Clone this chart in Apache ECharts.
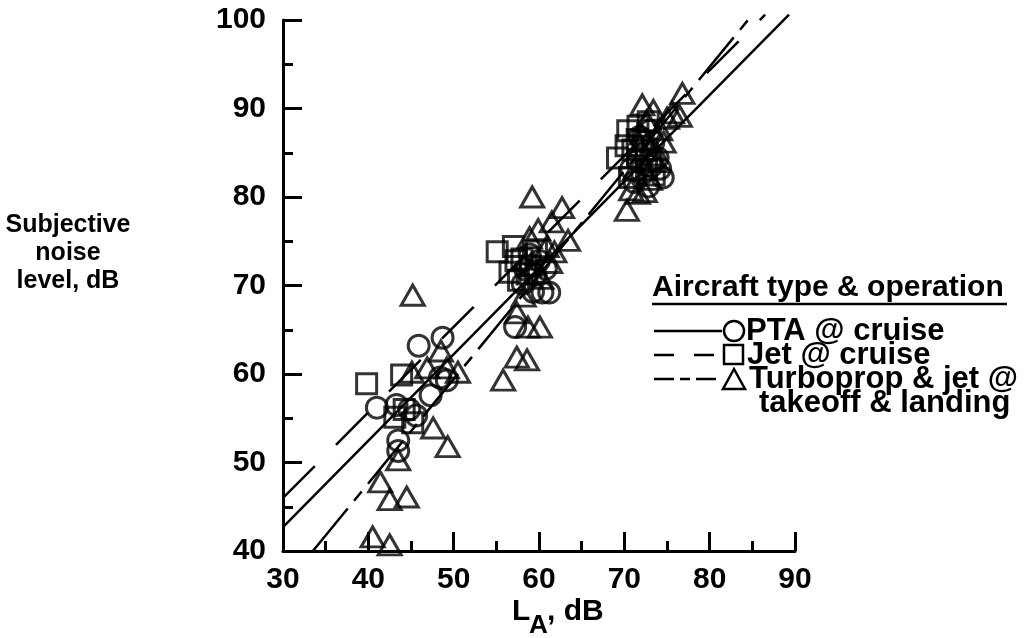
<!DOCTYPE html>
<html>
<head>
<meta charset="utf-8">
<script src="https://cdn.jsdelivr.net/npm/echarts@6/dist/echarts.min.js"></script>
<style>
  html, body { margin: 0; padding: 0; background: #fff; }
  #chart { width: 1024px; height: 638px; }
</style>
</head>
<body>
<div id="chart"></div>
<script>
// data: [L_A, subjective noise level]
var ptaPoints = [
  [41.0,56.2],[43.3,56.5],[44.8,56.0],[45.6,55.3],[45.9,63.2],[48.7,64.1],[47.3,57.6],
  [43.5,52.5],[43.5,51.3],[48.4,59.6],[49.2,59.3],
  [57.2,65.3],[59.3,69.3],[60.4,69.2],[61.2,69.2],[58.4,71.8],[59.6,71.2],[60.0,72.8],[58.9,73.5],
  [58.1,70.2],[60.8,71.9],
  [74.5,82.2],[72.1,82.6],[71.2,81.7],[73.2,83.5],[72.6,85.2],[71.6,84.1],[73.9,84.4],[73.4,86.2],
  [70.8,83.2],[72.8,81.2],[74.2,83.2],[71.8,86.8],[73.0,87.5]
];
var jetPoints = [
  [39.8,58.9],[43.9,59.9],[43.1,55.1],[45.2,54.5],[44.2,56.0],
  [55.1,73.8],[57.0,74.4],[56.6,71.5],[58.0,73.0],[59.0,72.2],[57.6,70.6],
  [57.3,72.8],[58.6,71.3],[59.7,73.9],
  [70.4,87.5],[69.2,84.4],[71.0,85.3],[72.2,86.3],[72.6,83.1],[73.1,84.2],[71.6,88.0],[70.6,82.2],
  [71.5,86.5],[72.8,88.5],[70.2,85.8],[73.5,82.5]
];
var turboPoints = [
  [45.2,68.9],[45.1,60.2],[46.9,60.7],[49.2,60.7],[50.5,60.2],[48.5,62.6],[47.6,53.9],
  [49.3,51.8],[43.5,50.3],[41.4,47.8],[42.5,45.8],[44.5,46.1],[40.5,41.6],[42.5,40.7],
  [55.8,59.3],[57.4,61.9],[58.6,61.6],[57.4,66.9],[58.7,65.3],[60.1,65.3],[59.2,80.0],
  [62.7,78.8],[61.5,77.2],[59.9,76.3],[63.4,75.1],[60.9,74.4],[61.3,72.6],[60.3,70.8],[58.2,68.8],
  [59.4,72.3],[58.9,75.4],[61.8,73.8],
  [72.1,90.4],[73.4,89.8],[76.8,91.7],[75.6,89.5],[76.5,89.1],[75.0,88.9],[70.3,78.5],
  [71.6,80.4],[72.0,87.1],[73.0,82.0],[72.4,80.6],[71.2,83.0],[74.2,87.6],[73.6,85.3],
  [71.8,85.8],[73.8,84.0],[70.8,80.8],[74.6,86.2],[72.6,88.6]
];

// fitted lines, end points
var ptaLine = [[30, 42.7], [89.3, 100.6]];
var jetLine = [[30, 46.0], [86.5, 100.6]];
var turboLine = [[33.5, 40], [85.0, 100.6]];

var legendNames = ["PTA @ cruise", "Jet @ cruise", "Turboprop & jet @", "takeoff & landing"];
var legendTitle = "Aircraft type & operation";
var yTitle = "Subjective\nnoise\nlevel, dB";

var fnt = '"Liberation Sans", Arial, sans-serif';

var hollow = {
  color: "rgba(0,0,0,0)",
  borderColor: "#000",
  borderWidth: 3
};

function txt(x, y, s, size, align) {
  return {
    type: "text", x: x, y: y,
    style: {
      text: s, fill: "#000",
      font: "bold " + size + "px " + fnt,
      align: align || "left", verticalAlign: "middle", lineHeight: 28
    }
  };
}

var option = {
  backgroundColor: "#fff",
  animation: false,
  grid: { left: 283, right: 229, top: 20, bottom: 87 },
  xAxis: {
    type: "value", min: 30, max: 90, interval: 10,
    axisLine: { onZero: false, lineStyle: { color: "#000", width: 3 } },
    axisTick: { inside: true, length: 19, lineStyle: { color: "#000", width: 3 } },
    minorTick: { show: true, splitNumber: 2, length: 10, lineStyle: { color: "#000", width: 3 } },
    splitLine: { show: false },
    axisLabel: { color: "#000", fontSize: 30, fontWeight: "bold", fontFamily: fnt, margin: 14 }
  },
  yAxis: {
    type: "value", min: 40, max: 100, interval: 10,
    axisLine: { show: true, onZero: false, lineStyle: { color: "#000", width: 3 } },
    axisTick: { show: true, inside: true, length: 19, lineStyle: { color: "#000", width: 3 } },
    minorTick: { show: true, splitNumber: 2, length: 10, lineStyle: { color: "#000", width: 3 } },
    splitLine: { show: false },
    axisLabel: { color: "#000", fontSize: 30, fontWeight: "bold", fontFamily: fnt, margin: 17 }
  },
  series: [
    { name: "PTA line", type: "line", data: ptaLine, symbol: "none", clip: false,
      lineStyle: { color: "#000", width: 2.5 } },
    { name: "Jet line", type: "line", data: jetLine, symbol: "none", clip: false,
      lineStyle: { color: "#000", width: 2.5, type: [45, 30] } },
    { name: "Turbo line", type: "line", data: turboLine, symbol: "none", clip: false,
      lineStyle: { color: "#000", width: 2.5, type: [55, 10, 12, 10] } },
    { name: "PTA", type: "scatter", data: ptaPoints, symbol: "circle", symbolSize: 21, itemStyle: hollow },
    { name: "Jet", type: "scatter", data: jetPoints, symbol: "rect", symbolSize: 20, itemStyle: hollow },
    { name: "Turbo", type: "scatter", data: turboPoints, symbol: "triangle", symbolSize: [23, 20], itemStyle: hollow }
  ],
  graphic: [
    // y axis title
    {
      type: "text", x: 68, y: 253,
      style: {
        text: yTitle, fill: "#000", font: "bold 25px " + fnt,
        align: "center", verticalAlign: "middle", lineHeight: 28
      }
    },
    // x axis title L_A, dB
    txt(512, 612, "L", 30),
    txt(529, 626, "A", 26),
    txt(547, 612, ", dB", 30),
    // legend
    txt(652, 288, legendTitle, 30),
    { type: "line", shape: { x1: 652, y1: 304, x2: 1007, y2: 304 }, style: { stroke: "#000", lineWidth: 2.5 } },
    { type: "line", shape: { x1: 654, y1: 331, x2: 722, y2: 331 }, style: { stroke: "#000", lineWidth: 2.5 } },
    { type: "line", shape: { x1: 654, y1: 355, x2: 722, y2: 355 }, style: { stroke: "#000", lineWidth: 2.5, lineDash: [20, 20] } },
    { type: "line", shape: { x1: 654, y1: 379, x2: 722, y2: 379 }, style: { stroke: "#000", lineWidth: 2.5, lineDash: [20, 6, 10, 6] } },
    { type: "circle", shape: { cx: 734, cy: 331, r: 10 }, style: { fill: "none", stroke: "#000", lineWidth: 2.5 } },
    { type: "rect", shape: { x: 724, y: 345, width: 19, height: 19 }, style: { fill: "none", stroke: "#000", lineWidth: 2.5 } },
    { type: "polygon", shape: { points: [[734, 369], [745, 389], [723, 389]] }, style: { fill: "none", stroke: "#000", lineWidth: 2.5 } },
    txt(746, 331, legendNames[0], 31),
    txt(747, 355, legendNames[1], 31),
    txt(749, 379, legendNames[2], 31),
    txt(759, 403, legendNames[3], 31)
  ]
};

var myChart = echarts.init(document.getElementById("chart"));
myChart.setOption(option);
</script>
</body>
</html>
